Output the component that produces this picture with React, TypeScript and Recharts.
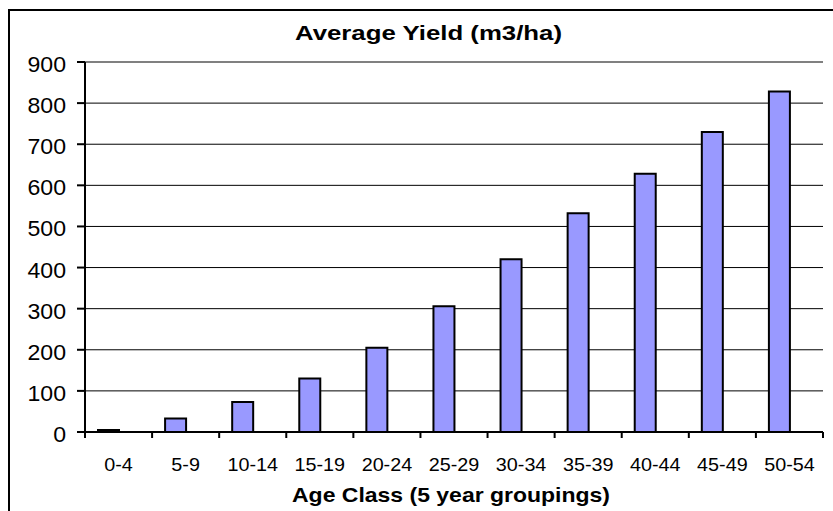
import { BarChart, Bar, XAxis, YAxis, CartesianGrid, ReferenceLine } from "recharts";

const categories = ["0-4", "5-9", "10-14", "15-19", "20-24", "25-29", "30-34", "35-39", "40-44", "45-49", "50-54"];
const yieldValues = [5, 33, 73, 130, 205, 306, 420, 532, 628, 730, 828];
// Excel kept room for a second (empty) series, which pushes the bars left of centre
const blankSeries = [null, null, null, null, null, null, null, null, null, null, null];
const yTicks = [0, 100, 200, 300, 400, 500, 600, 700, 800, 900];

const W = 823;
const H = 500;
const M = { top: 51, right: 10, left: 0, bottom: 0 };
const Y_AXIS_W = 75;
const PLOT_W = W - M.left - M.right - Y_AXIS_W;
const FONT = '"Liberation Sans", Arial, sans-serif';

const data = categories.map((category, i) => ({
  category,
  yield: yieldValues[i],
  blank: blankSeries[i],
}));

function XTick(props: any) {
  const { x, y, payload, index } = props;
  const step = PLOT_W / categories.length;
  const left = x - step / 2;
  return (
    <g>
      <line x1={left} x2={left} y1={y} y2={y + 6} stroke="#000" strokeWidth={2} />
      {index === categories.length - 1 && (
        <line x1={x + step / 2} x2={x + step / 2} y1={y} y2={y + 6} stroke="#000" strokeWidth={2} />
      )}
      <g transform={`translate(${x},${y + 38.7})`}>
        <text textAnchor="middle" fontSize={17.5} fill="#000" fontFamily={FONT} transform="scale(1.13,1)">
          {payload.value}
        </text>
      </g>
    </g>
  );
}

function YTick(props: any) {
  const { x, y, payload } = props;
  return (
    <g transform={`translate(${x},${y})`}>
      <text textAnchor="end" y={10} fontSize={22} fill="#000" fontFamily={FONT} transform="scale(1.05,1)">
        {payload.value}
      </text>
    </g>
  );
}

export default function App() {
  return (
    <div
      style={{
        position: "fixed",
        left: 8,
        top: 9,
        width: W,
        height: H,
        borderTop: "2px solid #000",
        borderLeft: "2px solid #000",
        background: "#fff",
        fontFamily: FONT,
      }}
    >
      <BarChart width={W} height={H} data={data} margin={M} barGap={0}>
        <CartesianGrid yAxisId="left" vertical={false} stroke="#000" strokeWidth={1} />
        <XAxis
          dataKey="category"
          height={H - M.top - 370}
          interval={0}
          tickLine={false}
          tickSize={0}
          tickMargin={0}
          tick={<XTick />}
          axisLine={{ stroke: "#000", strokeWidth: 2 }}
        />
        <YAxis
          yAxisId="left"
          width={Y_AXIS_W}
          domain={[0, 900]}
          ticks={yTicks}
          interval={0}
          tickSize={8}
          tickMargin={11}
          tick={<YTick />}
          tickLine={{ stroke: "#000", strokeWidth: 2 }}
          axisLine={{ stroke: "#000", strokeWidth: 2 }}
        />
        <YAxis
          yAxisId="right"
          orientation="right"
          width={0}
          domain={[0, 900]}
          tick={false}
          tickLine={false}
          axisLine={{ stroke: "#808080", strokeWidth: 2 }}
        />
        <ReferenceLine yAxisId="left" y={900} stroke="#808080" strokeWidth={2} />
        <Bar
          yAxisId="left"
          dataKey="yield"
          fill="#9999FF"
          stroke="#000"
          strokeWidth={2}
          barSize={21}
          isAnimationActive={false}
        />
        <Bar yAxisId="left" dataKey="blank" fill="#993366" barSize={21} isAnimationActive={false} />
      </BarChart>
      <svg width={W} height={H} style={{ position: "absolute", left: 0, top: 0, pointerEvents: "none" }}>
        <text
          x={418.5}
          y={29}
          textAnchor="middle"
          fontWeight="bold"
          fontSize={21}
          fontFamily={FONT}
          textLength={267}
          lengthAdjust="spacingAndGlyphs"
        >
          Average Yield (m3/ha)
        </text>
        <text
          x={441}
          y={490.7}
          textAnchor="middle"
          fontWeight="bold"
          fontSize={21}
          fontFamily={FONT}
          textLength={318}
          lengthAdjust="spacingAndGlyphs"
        >
          Age Class (5 year groupings)
        </text>
      </svg>
    </div>
  );
}
